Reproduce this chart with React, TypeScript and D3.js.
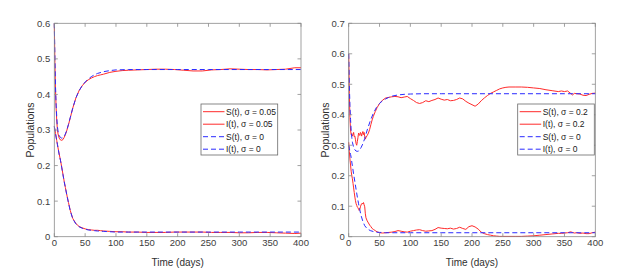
import React from "react";
import * as d3 from "d3";

// left panel, sigma = 0 (deterministic)
const sLeft0: [number, number][] = [
  [0, 0.6], [1, 0.5], [2, 0.42], [3, 0.37], [4, 0.335], [5, 0.31], [6, 0.297], [8, 0.284],
  [10, 0.279], [12, 0.277], [14, 0.278], [16, 0.282], [18, 0.289], [20, 0.298], [23, 0.316],
  [26, 0.336], [30, 0.362], [35, 0.39], [40, 0.41], [45, 0.424], [50, 0.435], [55, 0.443],
  [60, 0.45], [65, 0.455], [70, 0.459], [80, 0.464], [90, 0.467], [100, 0.469], [120, 0.47],
  [150, 0.47], [200, 0.47], [250, 0.47], [300, 0.47], [350, 0.47], [400, 0.47],
];
const iLeft0: [number, number][] = [
  [0, 0.31], [1, 0.3], [2, 0.29], [3, 0.28], [4, 0.27], [5, 0.26], [6, 0.25], [8, 0.23],
  [10, 0.215], [12, 0.195], [14, 0.175], [16, 0.155], [18, 0.138], [20, 0.12], [23, 0.095],
  [26, 0.072], [30, 0.05], [35, 0.036], [40, 0.028], [45, 0.024], [50, 0.021], [55, 0.019],
  [60, 0.018], [65, 0.017], [70, 0.016], [80, 0.015], [90, 0.014], [100, 0.013], [120, 0.013],
  [150, 0.013], [200, 0.013], [250, 0.013], [300, 0.013], [350, 0.013], [400, 0.013],
];

// left panel, sigma = 0.05
const sLeft05: [number, number][] = [
  [0, 0.6], [1, 0.49], [2, 0.41], [3, 0.36], [4, 0.325], [5, 0.302], [6, 0.289], [8, 0.277],
  [10, 0.272], [12, 0.271], [14, 0.273], [16, 0.279], [18, 0.287], [20, 0.297], [23, 0.315],
  [26, 0.335], [30, 0.362], [35, 0.39], [40, 0.41], [45, 0.424], [50, 0.434], [55, 0.441],
  [60, 0.446], [65, 0.45], [70, 0.453], [75, 0.455], [80, 0.457], [90, 0.462], [100, 0.465],
  [110, 0.467], [120, 0.468], [135, 0.469], [150, 0.47], [165, 0.471], [180, 0.471],
  [195, 0.47], [210, 0.468], [225, 0.466], [240, 0.466], [255, 0.469], [270, 0.47],
  [285, 0.472], [300, 0.471], [315, 0.47], [330, 0.47], [345, 0.469], [360, 0.47],
  [375, 0.471], [390, 0.475], [400, 0.475],
];
const iLeft05: [number, number][] = [
  [0, 0.31], [1, 0.3], [2, 0.29], [3, 0.28], [4, 0.27], [5, 0.26], [6, 0.25], [8, 0.232],
  [10, 0.215], [12, 0.196], [14, 0.176], [16, 0.156], [18, 0.138], [20, 0.12], [23, 0.096],
  [26, 0.073], [30, 0.051], [35, 0.037], [40, 0.029], [45, 0.025], [50, 0.022], [55, 0.02],
  [60, 0.019], [65, 0.018], [70, 0.018], [75, 0.017], [80, 0.016], [90, 0.015], [100, 0.014],
  [110, 0.014], [120, 0.013], [135, 0.013], [150, 0.012], [165, 0.012], [180, 0.012],
  [195, 0.013], [210, 0.013], [225, 0.013], [240, 0.013], [255, 0.012], [270, 0.012],
  [285, 0.012], [300, 0.011], [315, 0.011], [330, 0.012], [345, 0.012], [360, 0.011],
  [375, 0.01], [390, 0.009], [400, 0.01],
];

// right panel, sigma = 0
const sRight0: [number, number][] = [
  [0, 0.6], [1, 0.5], [2, 0.43], [3, 0.385], [4, 0.35], [5, 0.325], [6, 0.31], [8, 0.293],
  [10, 0.285], [12, 0.281], [14, 0.28], [16, 0.281], [18, 0.285], [20, 0.292], [23, 0.305],
  [26, 0.322], [30, 0.35], [35, 0.38], [40, 0.405], [45, 0.424], [50, 0.437], [55, 0.446],
  [60, 0.452], [65, 0.457], [70, 0.461], [80, 0.465], [90, 0.467], [100, 0.468], [120, 0.469],
  [150, 0.469], [200, 0.469], [250, 0.469], [300, 0.469], [350, 0.469], [400, 0.469],
];
const iRight0: [number, number][] = [
  [0, 0.3], [1, 0.29], [2, 0.28], [3, 0.27], [4, 0.26], [5, 0.245], [6, 0.232], [8, 0.205],
  [10, 0.18], [12, 0.155], [14, 0.13], [16, 0.108], [18, 0.088], [20, 0.07], [23, 0.05],
  [26, 0.036], [30, 0.026], [35, 0.02], [40, 0.017], [45, 0.015], [50, 0.014], [55, 0.014],
  [60, 0.013], [70, 0.013], [100, 0.013], [150, 0.013], [200, 0.013], [250, 0.013],
  [300, 0.013], [350, 0.013], [400, 0.013],
];

// right panel, sigma = 0.2
const sRight02: [number, number][] = [
  [0, 0.6], [1, 0.47], [2, 0.39], [3, 0.35], [4, 0.335], [5, 0.338], [6, 0.33], [7, 0.335],
  [8, 0.342], [9, 0.328], [10, 0.33], [11, 0.318], [12, 0.305], [13, 0.3], [14, 0.312],
  [15, 0.325], [16, 0.34], [17, 0.336], [18, 0.332], [19, 0.342], [20, 0.338], [21, 0.33],
  [22, 0.34], [23, 0.345], [24, 0.335], [25, 0.342], [26, 0.328], [27, 0.32], [28, 0.325],
  [30, 0.332], [32, 0.34], [34, 0.352], [36, 0.368], [38, 0.383], [40, 0.395], [43, 0.41],
  [46, 0.423], [50, 0.437], [55, 0.448], [60, 0.455], [65, 0.457], [70, 0.459], [75, 0.46],
  [80, 0.459], [85, 0.456], [90, 0.458], [95, 0.46], [100, 0.453], [105, 0.447], [110, 0.44],
  [115, 0.437], [120, 0.44], [125, 0.446], [130, 0.443], [135, 0.447], [140, 0.45],
  [145, 0.455], [150, 0.451], [155, 0.448], [160, 0.45], [165, 0.446], [170, 0.447],
  [175, 0.45], [180, 0.455], [185, 0.452], [190, 0.444], [195, 0.438], [200, 0.433],
  [205, 0.428], [210, 0.435], [215, 0.446], [220, 0.455], [225, 0.463], [230, 0.47],
  [235, 0.475], [240, 0.48], [245, 0.485], [250, 0.488], [255, 0.49], [260, 0.491],
  [270, 0.491], [280, 0.491], [290, 0.49], [300, 0.488], [310, 0.486], [320, 0.482],
  [330, 0.479], [340, 0.476], [345, 0.478], [350, 0.476], [355, 0.478], [360, 0.47],
  [363, 0.465], [366, 0.47], [370, 0.469], [375, 0.468], [380, 0.464], [385, 0.463],
  [390, 0.467], [395, 0.47], [400, 0.471],
];
const iRight02: [number, number][] = [
  [0, 0.31], [1, 0.28], [2, 0.255], [3, 0.235], [4, 0.215], [5, 0.2], [6, 0.19], [7, 0.175],
  [8, 0.16], [9, 0.145], [10, 0.13], [11, 0.118], [12, 0.108], [13, 0.103], [14, 0.097],
  [15, 0.095], [16, 0.09], [17, 0.086], [18, 0.09], [19, 0.098], [20, 0.104], [21, 0.108],
  [22, 0.11], [23, 0.107], [24, 0.112], [25, 0.105], [26, 0.098], [27, 0.075], [28, 0.062],
  [30, 0.052], [32, 0.045], [34, 0.038], [36, 0.033], [38, 0.027], [40, 0.024], [43, 0.02],
  [46, 0.016], [50, 0.013], [55, 0.012], [60, 0.013], [65, 0.014], [70, 0.015], [75, 0.017],
  [80, 0.02], [85, 0.018], [90, 0.016], [95, 0.015], [100, 0.018], [105, 0.02], [110, 0.022],
  [115, 0.023], [120, 0.02], [125, 0.018], [130, 0.019], [135, 0.02], [140, 0.024],
  [145, 0.03], [150, 0.028], [155, 0.027], [160, 0.026], [165, 0.028], [170, 0.025],
  [175, 0.027], [180, 0.031], [185, 0.027], [190, 0.024], [195, 0.033], [200, 0.036],
  [205, 0.032], [210, 0.025], [215, 0.015], [220, 0.01], [225, 0.007], [230, 0.005],
  [235, 0.003], [240, 0.002], [245, 0.001], [250, 0.001], [260, 0.001], [270, 0.001],
  [280, 0.001], [290, 0.002], [300, 0.003], [310, 0.005], [320, 0.007], [330, 0.009],
  [340, 0.011], [345, 0.011], [350, 0.012], [355, 0.013], [360, 0.016], [363, 0.014],
  [366, 0.012], [370, 0.013], [375, 0.011], [380, 0.012], [385, 0.01], [390, 0.01],
  [395, 0.013], [400, 0.015],
];

const xTicks = [0, 50, 100, 150, 200, 250, 300, 350, 400];
const yTicksLeft = [0, 0.1, 0.2, 0.3, 0.4, 0.5, 0.6];
const yTicksRight = [0, 0.1, 0.2, 0.3, 0.4, 0.5, 0.6, 0.7];
const legendLeft = ["S(t), σ = 0.05", "I(t), σ = 0.05", "S(t), σ = 0", "I(t), σ = 0"];
const legendRight = ["S(t), σ = 0.2", "I(t), σ = 0.2", "S(t), σ = 0", "I(t), σ = 0"];

const RED = "#ff2a2a";
const BLUE = "#2a2aff";
const FONT = "'Liberation Sans', Arial, Helvetica, sans-serif";

type PanelProps = {
  x0: number;
  x1: number;
  yMax: number;
  yTicks: number[];
  red: [number, number][][];
  blue: [number, number][][];
  legend: string[];
  legendX: number;
  legendW: number;
};

function Panel({ x0, x1, yMax, yTicks, red, blue, legend, legendX, legendW }: PanelProps) {
  const top = 23.3;
  const bottom = 236.7;
  const x = d3.scaleLinear().domain([0, 400]).range([x0, x1]);
  const y = d3.scaleLinear().domain([0, yMax]).range([bottom, top]);
  const line = d3
    .line<[number, number]>()
    .x((d) => x(d[0]))
    .y((d) => y(d[1]));
  const tick = 3.5;
  const legTop = 104;
  const rowH = 12.5;

  return (
    <g>
      {red.map((s, i) => (
        <path key={"r" + i} d={line(s) || ""} fill="none" stroke={RED} strokeWidth={1} />
      ))}
      {blue.map((s, i) => (
        <path key={"b" + i} d={line(s) || ""} fill="none" stroke={BLUE} strokeWidth={1} strokeDasharray="5,3" />
      ))}

      <rect x={x0} y={top} width={x1 - x0} height={bottom - top} fill="none" stroke="#8a8a8a" strokeWidth={0.8} />

      {xTicks.map((t) => (
        <g key={"x" + t}>
          <line x1={x(t)} x2={x(t)} y1={bottom} y2={bottom - tick} stroke="#8a8a8a" strokeWidth={0.8} />
          <line x1={x(t)} x2={x(t)} y1={top} y2={top + tick} stroke="#8a8a8a" strokeWidth={0.8} />
          <text x={x(t)} y={bottom + 9.5} textAnchor="middle" fontSize={9.5} fill="#404040" fontFamily={FONT}>
            {t}
          </text>
        </g>
      ))}
      {yTicks.map((t) => (
        <g key={"y" + t}>
          <line x1={x0} x2={x0 + tick} y1={y(t)} y2={y(t)} stroke="#8a8a8a" strokeWidth={0.8} />
          <line x1={x1} x2={x1 - tick} y1={y(t)} y2={y(t)} stroke="#8a8a8a" strokeWidth={0.8} />
          <text x={x0 - 4} y={y(t) + 3.4} textAnchor="end" fontSize={9.5} fill="#404040" fontFamily={FONT}>
            {t === 0 ? "0" : t.toFixed(1)}
          </text>
        </g>
      ))}

      <text x={(x0 + x1) / 2} y={266} textAnchor="middle" fontSize={10} fill="#303030" fontFamily={FONT}>
        Time (days)
      </text>
      <text
        transform={`translate(${x0 - 20},${(top + bottom) / 2}) rotate(-90)`}
        textAnchor="middle"
        fontSize={10.5}
        fill="#303030"
        fontFamily={FONT}
      >
        Populations
      </text>

      <rect x={legendX} y={legTop} width={legendW} height={51} fill="#fff" stroke="#6a6a6a" strokeWidth={0.8} />
      {legend.map((label, i) => {
        const cy = legTop + 7.7 + i * rowH;
        const isRed = i < 2;
        return (
          <g key={label + i}>
            <line
              x1={legendX + 2}
              x2={legendX + 23.5}
              y1={cy}
              y2={cy}
              stroke={isRed ? RED : BLUE}
              strokeWidth={1}
              strokeDasharray={isRed ? undefined : "5,3"}
            />
            <text x={legendX + 25} y={cy + 3} fontSize={8.5} fill="#202020" fontFamily={FONT}>
              {label}
            </text>
          </g>
        );
      })}
    </g>
  );
}

export default function App() {
  return (
    <svg width={622} height={280} style={{ position: "absolute", left: 0, top: 0, background: "#fff" }}>
      <rect width={622} height={280} fill="#fff" />
      <Panel
        x0={54.3}
        x1={301}
        yMax={0.6}
        yTicks={yTicksLeft}
        red={[sLeft05, iLeft05]}
        blue={[sLeft0, iLeft0]}
        legend={legendLeft}
        legendX={201}
        legendW={76.7}
      />
      <Panel
        x0={348.7}
        x1={595.3}
        yMax={0.7}
        yTicks={yTicksRight}
        red={[sRight02, iRight02]}
        blue={[sRight0, iRight0]}
        legend={legendRight}
        legendX={517.7}
        legendW={76.6}
      />
    </svg>
  );
}
